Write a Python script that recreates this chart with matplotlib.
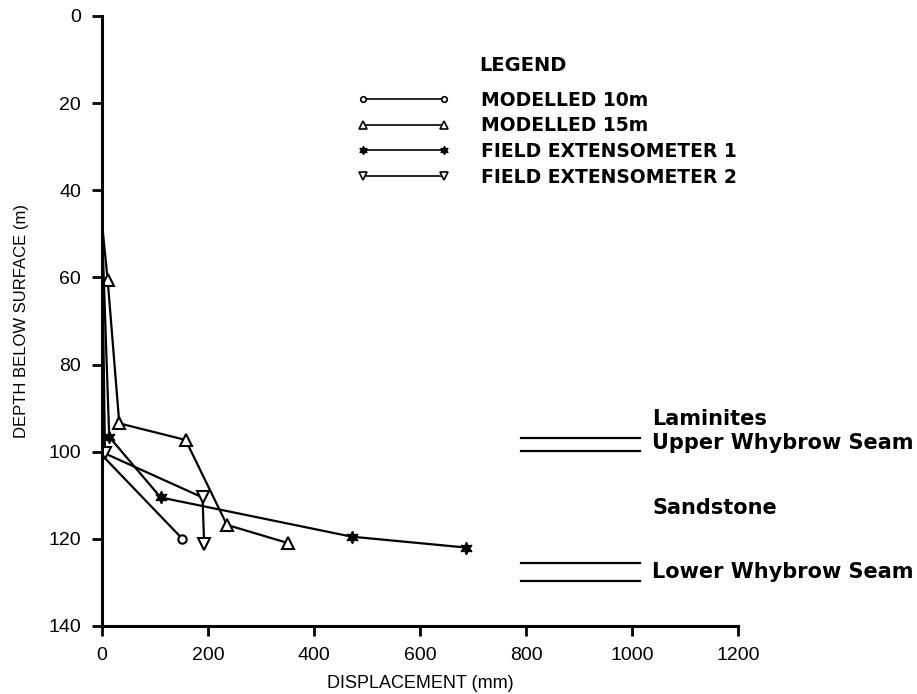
import matplotlib.pyplot as plt
from matplotlib.lines import Line2D

plt.rcParams['font.family'] = ['Liberation Sans', 'DejaVu Sans']

# displacement (mm) vs depth below surface (m)
m10_x = [0, 0, 2, 152]
m10_y = [0, 47, 101, 120]
m15_x = [0, 0, 11, 33, 158, 236, 352]
m15_y = [0, 47, 60.5, 93.5, 97.3, 116.8, 121]
ext1_x = [0, 0, 14, 111, 471, 687]
ext1_y = [0, 47, 96.6, 110.5, 119.5, 122]
ext2_x = [0, 0, 6, 190, 193]
ext2_y = [0, 47, 100.4, 110.5, 121.2]

labels = ['MODELLED 10m', 'MODELLED 15m', 'FIELD EXTENSOMETER 1', 'FIELD EXTENSOMETER 2']

# strata boundaries (depth, m)
upper_seam = [96.9, 99.8]
lower_seam = [125.5, 129.7]
strata_text = [('Laminites', 92.5), ('Upper Whybrow Seam', 98.0),
               ('Sandstone', 113.0), ('Lower Whybrow Seam', 127.5)]

fig = plt.figure(figsize=(9.17, 6.94), dpi=100)
ax = fig.add_axes([0.111, 0.098, 0.694, 0.879])

lw = 1.6
ax.plot(m10_x, m10_y, color='black', lw=lw, marker='o', ms=6, mfc='white', mew=1.5,
        markevery=[3], label=labels[0])
ax.plot(m15_x, m15_y, color='black', lw=lw, marker='^', ms=9, mfc='white', mew=1.5,
        markevery=list(range(2, len(m15_x))), label=labels[1])
ax.plot(ext1_x, ext1_y, color='black', lw=lw, marker=(6, 1, 0), ms=9, mfc='black',
        markevery=list(range(2, len(ext1_x))), label=labels[2])
ax.plot(ext2_x, ext2_y, color='black', lw=lw, marker='v', ms=9, mfc='white', mew=1.5,
        markevery=list(range(2, len(ext2_x))), label=labels[3])

# strata lines and labels
for d in upper_seam + lower_seam:
    ax.plot([790, 1015], [d, d], color='black', lw=1.6, clip_on=False)
for txt, d in strata_text:
    ax.text(1038, d, txt, fontsize=15, fontweight='bold', family='DejaVu Sans',
            va='center', ha='left', clip_on=False)

ax.set_xlim(0, 1200)
ax.set_ylim(140, 0)
ax.set_xticks([0, 200, 400, 600, 800, 1000, 1200])
ax.set_yticks([0, 20, 40, 60, 80, 100, 120, 140])
ax.spines['top'].set_visible(False)
ax.spines['right'].set_visible(False)
ax.spines['left'].set_linewidth(2.2)
ax.spines['bottom'].set_linewidth(2.2)
ax.tick_params(axis='both', width=2, length=7, labelsize=14, pad=8)

ax.set_xlabel('DISPLACEMENT (mm)', fontsize=13, labelpad=8)
ax.set_ylabel('DEPTH BELOW SURFACE (m)', fontsize=12, labelpad=14)

# legend
handles = [Line2D([0], [0], color='black', lw=1.2, marker='o', ms=4, mfc='white', mew=1.2),
           Line2D([0], [0], color='black', lw=1.2, marker='^', ms=6, mfc='white', mew=1.2),
           Line2D([0], [0], color='black', lw=1.2, marker=(6, 1, 0), ms=6, mfc='black'),
           Line2D([0], [0], color='black', lw=1.2, marker='v', ms=6, mfc='white', mew=1.2)]
fig.text(0.523, 0.906, 'LEGEND', fontsize=14, fontweight='bold', family='DejaVu Sans',
         va='center', ha='left')
fig.legend(handles, labels, loc='upper left', bbox_to_anchor=(0.390, 0.869),
           bbox_transform=fig.transFigure, frameon=False, numpoints=2,
           prop={'size': 13.5, 'weight': 'bold', 'family': 'DejaVu Sans'},
           handlelength=4.9, handletextpad=1.68,
           labelspacing=0.35, borderpad=0, borderaxespad=0)

plt.savefig('out.png', dpi=100)
